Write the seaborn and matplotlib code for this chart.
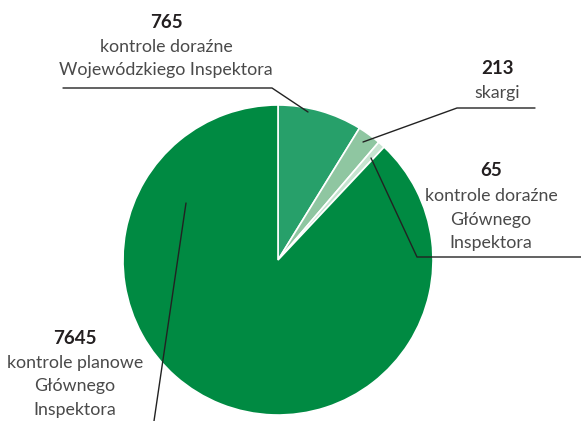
import matplotlib
matplotlib.use('Agg')
import matplotlib.pyplot as plt
import seaborn as sns

# data
values = [765, 213, 65, 7645]
numbers = ['765', '213', '65', '7645']
labels = [['kontrole doraźne', 'Wojewódzkiego Inspektora'],
          ['skargi'],
          ['kontrole doraźne', 'Głównego', 'Inspektora'],
          ['kontrole planowe', 'Głównego', 'Inspektora']]
colors = ['#27a06a', '#8fc6a1', '#c6e4d0', '#008a42']

sns.set_theme(style='white')
plt.rcParams['font.family'] = ['Lato', 'DejaVu Sans']

W, H = 581, 421
fig = plt.figure(figsize=(W / 100, H / 100), dpi=100)
ax = fig.add_axes([0, 0, 1, 1])

cx, cy, r = 278, H - 260, 155
ax.pie(values, colors=colors, startangle=90, counterclock=False,
       center=(cx, cy), radius=r, frame=True,
       wedgeprops=dict(edgecolor='white', linewidth=1.2))
ax.set_xlim(0, W)
ax.set_ylim(0, H)
ax.axis('off')

# leader lines (pixel coords, y from top)
leaders = [
    [(63, 88), (272, 88), (308, 112)],
    [(363, 142), (457, 108), (535, 108)],
    [(371, 158), (417, 257), (581, 257)],
    [(186, 203), (154, 421)],
]
for pts in leaders:
    xs = [p[0] for p in pts]
    ys = [H - p[1] for p in pts]
    ax.plot(xs, ys, color='#222222', linewidth=1)

# label positions: (x, y of number), line step ~23.5px
pos = [(166, 22), (497, 68), (491, 171), (75, 338)]
for (x, y), num, lab in zip(pos, numbers, labels):
    ax.text(x, H - y, num, ha='center', va='center', fontsize=13.5,
            fontweight='bold', color='#231f20')
    for i, line in enumerate(lab):
        ax.text(x, H - (y + 25 + 23.5 * i), line, ha='center', va='center',
                fontsize=12.8, color='#4a4a4a')

fig.savefig('out.png', dpi=100)
